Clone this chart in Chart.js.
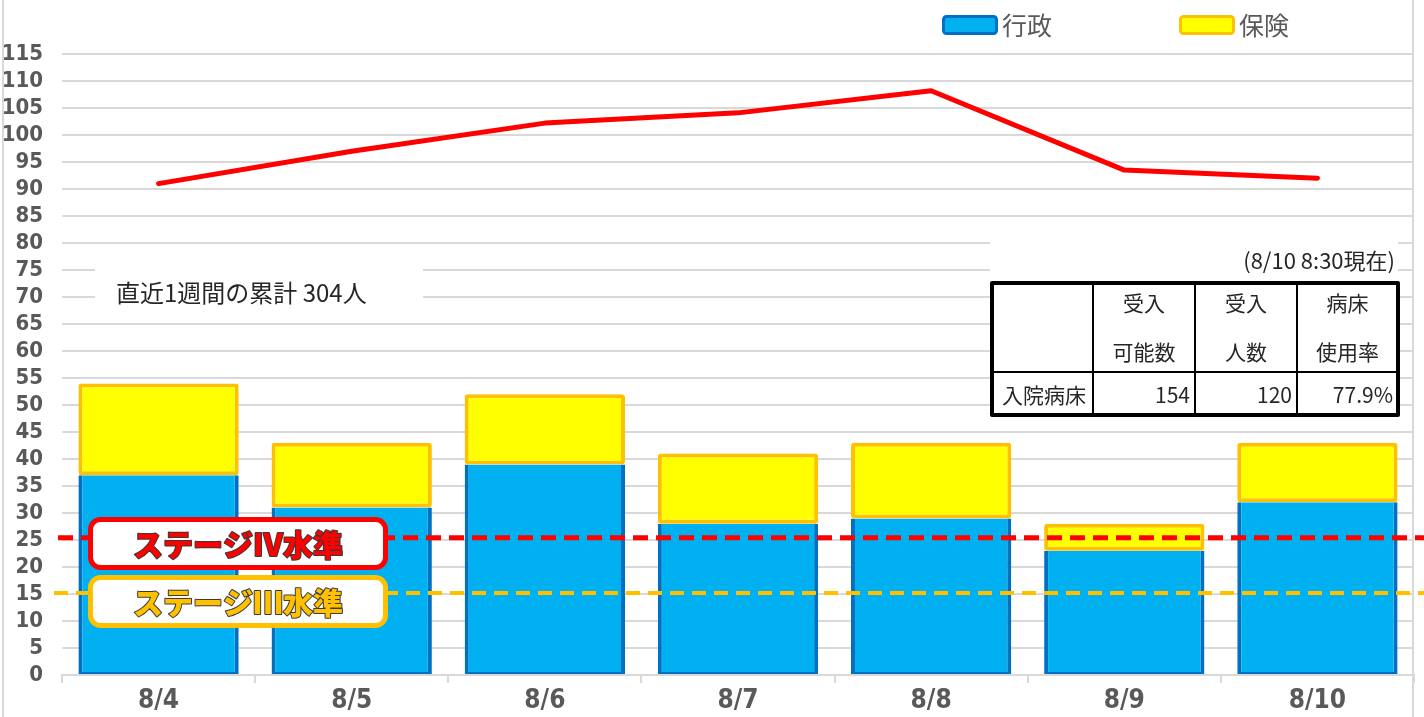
<!DOCTYPE html>
<html lang="ja">
<head>
<meta charset="UTF-8">
<title>入院患者数の推移</title>
<script src="https://cdn.jsdelivr.net/npm/chart.js@4.4.1/dist/chart.umd.min.js"></script>
<style>
    html, body { margin: 0; padding: 0; background: #fff; }
    #wrap { width: 1424px; height: 717px; position: relative; }
</style>
</head>
<body>
<div id="wrap"><canvas id="chart" width="1424" height="717"></canvas></div>
<script>
// ── データ ──────────────────────────────────────────────
const DATES  = ['8/4', '8/5', '8/6', '8/7', '8/8', '8/9', '8/10'];
const GYOSEI = [37, 31, 39, 28, 29, 23, 32];          // 行政
const HOKEN  = [17, 12, 13, 13, 14, 5, 11];           // 保険
const TREND  = [91, 97, 102.2, 104.1, 108.2, 93.5, 92];
const STAGE4 = 25.4;
const STAGE3 = 15.2;
const Y_MIN = 0, Y_MAX = 115, Y_STEP = 5;

const TABLE_HEAD = [['受入', '可能数'], ['受入', '人数'], ['病床', '使用率']];
const TABLE_ROW  = ['入院病床', '154', '120', '77.9%'];
const TABLE_NOTE = '(8/10 8:30現在)';
const WEEK_NOTE  = '直近1週間の累計 304人';

const BLUE = '#00B0F0', BLUE_DARK = '#0070C0';
const YELLOW = '#FFFF00', ORANGE = '#FFC000';
const GRID = '#D9D9D9', AXIS_TXT = '#595959';
const JP = "'Noto Sans CJK JP', 'Noto Sans', sans-serif";
const NARROW = "'Liberation Sans Narrow', 'DejaVu Sans Condensed', Roboto, sans-serif";

function roundRect(ctx, x, y, w, h, r) {
    ctx.beginPath();
    ctx.moveTo(x + r, y);
    ctx.arcTo(x + w, y, x + w, y + h, r);
    ctx.arcTo(x + w, y + h, x, y + h, r);
    ctx.arcTo(x, y + h, x, y, r);
    ctx.arcTo(x, y, x + w, y, r);
    ctx.closePath();
}

// グリッドの上に白い背景（注記・表の下）
const backdrops = {
    id: 'backdrops',
    beforeDatasetsDraw(chart) {
        const ctx = chart.ctx;
        ctx.save();
        ctx.fillStyle = '#fff';
        ctx.fillRect(95, 261, 328, 50);
        ctx.fillRect(990, 236, 408, 182);
        ctx.restore();
    }
};

// 水準線・ラベル・表・凡例
const overlays = {
    id: 'overlays',
    afterDatasetsDraw(chart) {
        const ctx = chart.ctx;
        const y = chart.scales.y;
        ctx.save();

        // ── 外枠 ──
        ctx.strokeStyle = GRID;
        ctx.lineWidth = 2;
        ctx.beginPath();
        ctx.moveTo(3, 0); ctx.lineTo(3, 717);
        ctx.moveTo(1413, 0); ctx.lineTo(1413, 717);
        ctx.stroke();

        // ── ステージ水準線 ──
        const y4 = y.getPixelForValue(STAGE4);
        const y3 = y.getPixelForValue(STAGE3);
        ctx.lineWidth = 5;
        ctx.strokeStyle = '#FF0000';
        ctx.setLineDash([15, 8]);
        ctx.beginPath(); ctx.moveTo(58, y4); ctx.lineTo(1424, y4); ctx.stroke();
        ctx.lineWidth = 4;
        ctx.strokeStyle = ORANGE;
        ctx.setLineDash([14, 8]);
        ctx.beginPath(); ctx.moveTo(54, y3); ctx.lineTo(1424, y3); ctx.stroke();
        ctx.setLineDash([]);

        // ── ステージラベル ──
        drawStageLabel(ctx, 'ステージⅣ水準', 88, 517, '#FF0000');
        drawStageLabel(ctx, 'ステージⅢ水準', 88, 575, ORANGE);

        // ── 注記 ──
        ctx.fillStyle = '#262626';
        ctx.font = `24px ${JP}`;
        ctx.textAlign = 'left';
        ctx.textBaseline = 'middle';
        ctx.fillText(WEEK_NOTE, 116, 293);

        // ── 表 ──
        drawTable(ctx);

        // ── 凡例 ──
        drawLegendItem(ctx, 942, 15, BLUE, BLUE_DARK, '行政');
        drawLegendItem(ctx, 1179, 15, YELLOW, ORANGE, '保険');

        ctx.restore();
    }
};

function drawStageLabel(ctx, text, x, top, color) {
    const w = 300, h = 53;
    roundRect(ctx, x + 2.5, top + 2.5, w - 5, h - 5, 10);
    ctx.fillStyle = '#fff';
    ctx.fill();
    ctx.lineWidth = 5;
    ctx.strokeStyle = color;
    ctx.stroke();
    ctx.font = `900 30px ${JP}`;
    ctx.textAlign = 'center';
    ctx.textBaseline = 'middle';
    ctx.lineJoin = 'round';
    ctx.lineWidth = 2;
    ctx.strokeStyle = '#3a3a3a';
    ctx.strokeText(text, x + w / 2, top + h / 2 + 1);
    ctx.fillStyle = color;
    ctx.fillText(text, x + w / 2, top + h / 2 + 1);
}

function drawTable(ctx) {
    const cols = [992, 1093, 1195, 1297, 1398];
    const top = 283, mid = 372, bottom = 415;

    ctx.fillStyle = '#262626';
    ctx.font = `22px ${JP}`;
    ctx.textAlign = 'right';
    ctx.textBaseline = 'middle';
    ctx.fillText(TABLE_NOTE, 1395, 261);

    ctx.strokeStyle = '#000';
    ctx.lineWidth = 2;
    ctx.beginPath();
    cols.slice(1, -1).forEach(cx => { ctx.moveTo(cx, top); ctx.lineTo(cx, bottom); });
    ctx.moveTo(cols[0], mid); ctx.lineTo(cols[4], mid);
    ctx.stroke();
    ctx.lineWidth = 4;
    ctx.strokeRect(cols[0], top, cols[4] - cols[0], bottom - top);

    ctx.font = `21px ${JP}`;
    ctx.textAlign = 'center';
    TABLE_HEAD.forEach(([l1, l2], i) => {
        const cx = (cols[i + 1] + cols[i + 2]) / 2;
        ctx.fillText(l1, cx, 303);
        ctx.fillText(l2, cx, 352);
    });

    ctx.textAlign = 'left';
    ctx.fillText(TABLE_ROW[0], cols[0] + 10, 395);
    ctx.textAlign = 'right';
    TABLE_ROW.slice(1).forEach((v, i) => ctx.fillText(v, cols[i + 2] - 5, 395));
}

function drawLegendItem(ctx, x, y, fill, border, label) {
    roundRect(ctx, x + 1.5, y + 1.5, 53, 17, 3);
    ctx.fillStyle = fill;
    ctx.fill();
    ctx.lineWidth = 3;
    ctx.strokeStyle = border;
    ctx.stroke();
    ctx.fillStyle = AXIS_TXT;
    ctx.font = `25px ${JP}`;
    ctx.textAlign = 'left';
    ctx.textBaseline = 'middle';
    ctx.fillText(label, x + 60, y + 10);
}

new Chart(document.getElementById('chart').getContext('2d'), {
    type: 'bar',
    data: {
        labels: DATES,
        datasets: [
            {
                type: 'line',
                label: '推移',
                data: TREND,
                stack: 'trend',
                borderColor: '#FF0000',
                borderWidth: 5,
                pointRadius: 0,
                tension: 0,
                borderCapStyle: 'round',
                borderJoinStyle: 'round',
                order: 0,
            },
            {
                label: '行政',
                data: GYOSEI,
                stack: 'bars',
                backgroundColor: BLUE,
                borderColor: BLUE_DARK,
                borderWidth: { top: 0, left: 4, right: 4, bottom: 2 },
                borderSkipped: false,
                order: 1,
            },
            {
                label: '保険',
                data: HOKEN,
                stack: 'bars',
                backgroundColor: YELLOW,
                borderColor: ORANGE,
                borderWidth: 4,
                borderRadius: 3,
                borderSkipped: false,
                order: 1,
            }
        ]
    },
    options: {
        responsive: false,
        animation: false,
        devicePixelRatio: 1,
        layout: { padding: { top: 54, right: 10, left: 0, bottom: 0 } },
        datasets: { bar: { categoryPercentage: 1, barPercentage: 0.83 } },
        plugins: {
            legend: { display: false },
            tooltip: { enabled: false }
        },
        scales: {
            x: {
                stacked: true,
                afterFit: s => { s.height = 42; },
                grid: { drawOnChartArea: false, drawTicks: true, tickLength: 8, color: GRID, lineWidth: 2 },
                border: { display: true, color: GRID, width: 2 },
                ticks: {
                    color: AXIS_TXT,
                    padding: 3,
                    font: { family: NARROW, size: 26, weight: 'bold', lineHeight: 1.2 }
                }
            },
            y: {
                stacked: true,
                min: Y_MIN,
                max: Y_MAX,
                afterFit: s => { s.width = 62; },
                grid: { color: GRID, lineWidth: 2, drawTicks: false },
                border: { display: false },
                ticks: {
                    stepSize: Y_STEP,
                    autoSkip: false,
                    color: AXIS_TXT,
                    padding: 19,
                    font: { family: NARROW, size: 22, weight: 'bold', lineHeight: 1 }
                }
            }
        }
    },
    plugins: [backdrops, overlays]
});
</script>
</body>
</html>
